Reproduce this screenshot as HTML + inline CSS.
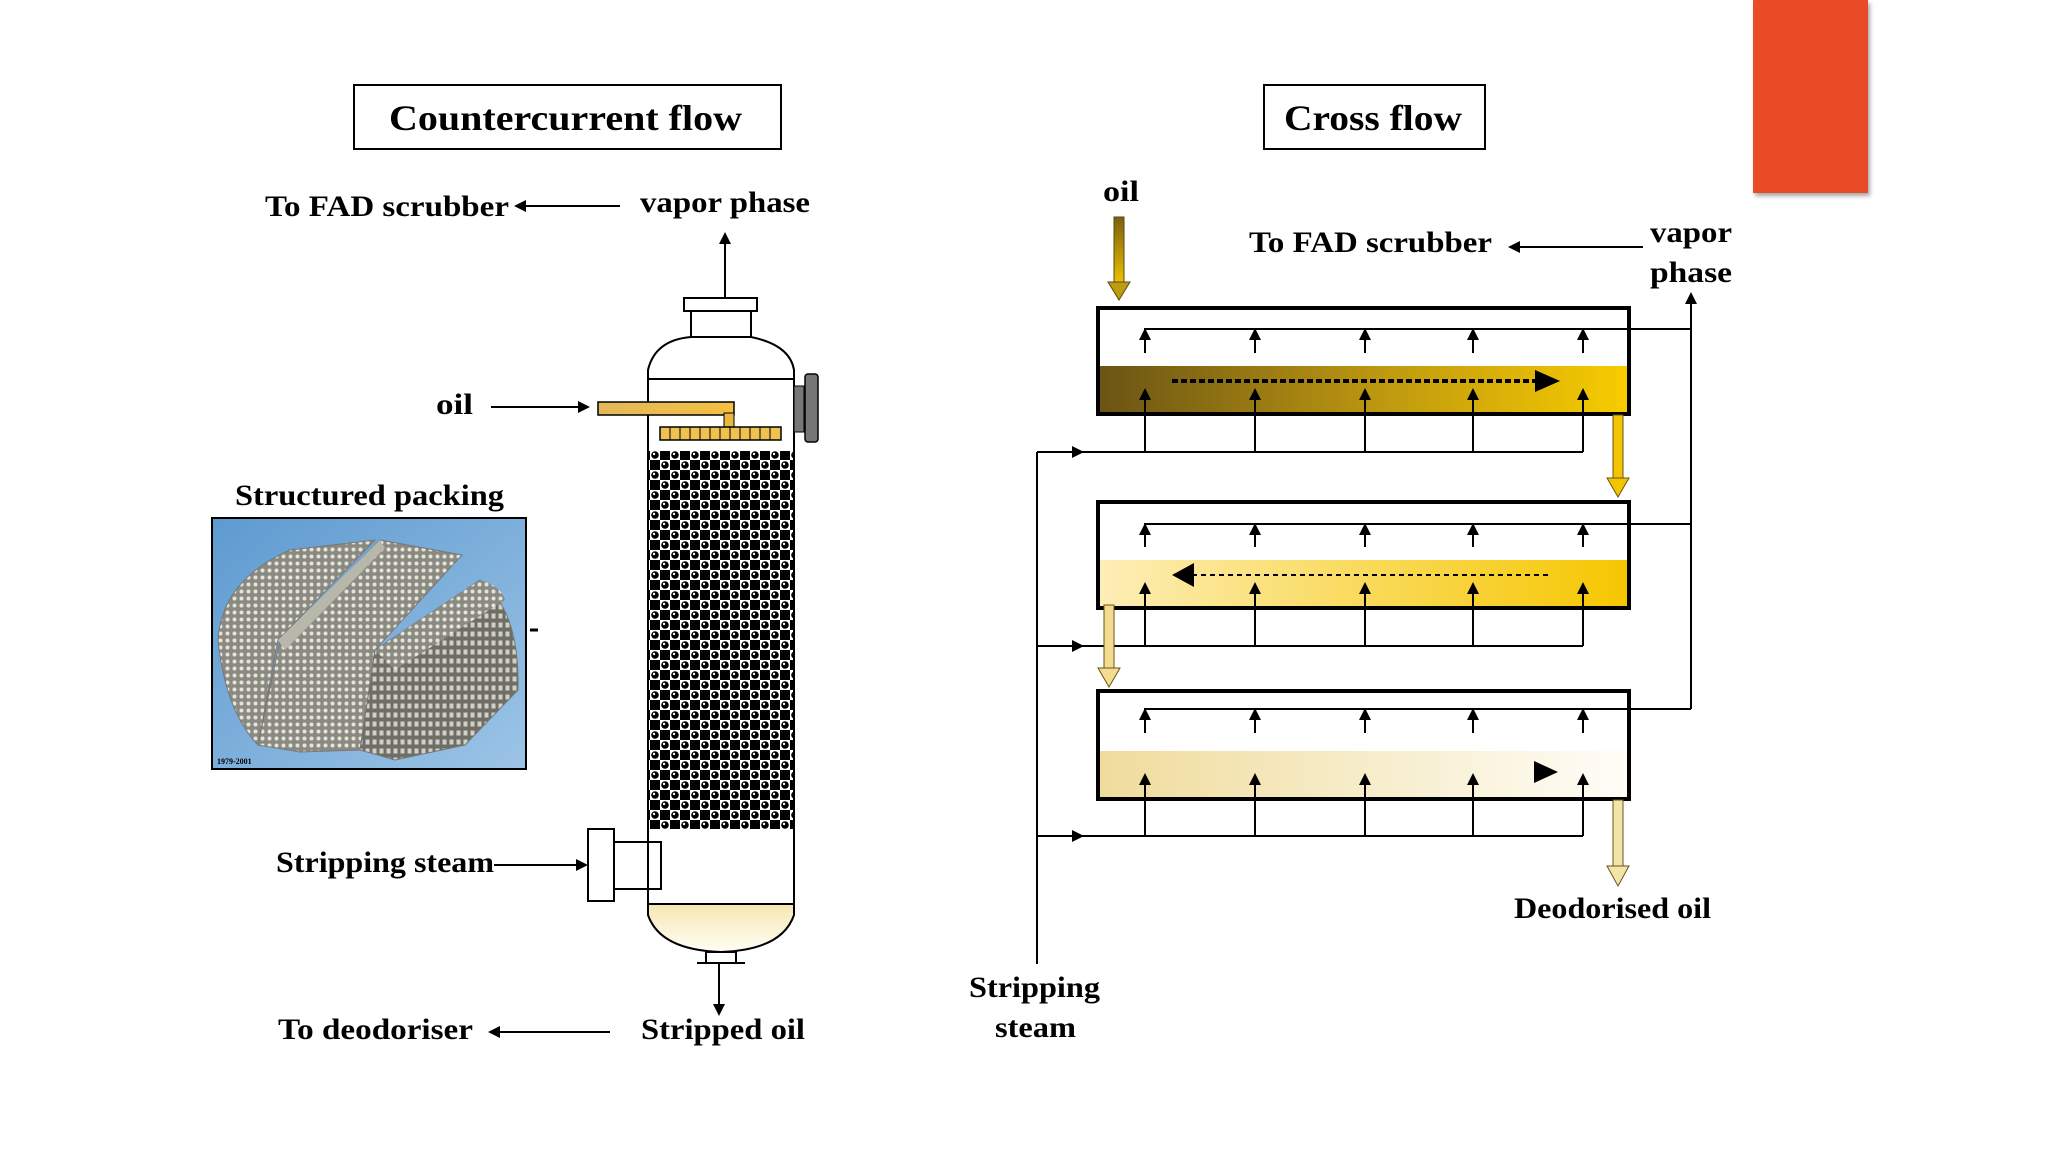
<!DOCTYPE html>
<html><head><meta charset="utf-8"><style>
html,body{margin:0;padding:0;background:#fff;}
svg{display:block;}
text{font-family:"Liberation Serif",serif;font-weight:bold;fill:#000;}
</style></head><body>
<svg width="2048" height="1152" viewBox="0 0 2048 1152" xmlns="http://www.w3.org/2000/svg">
<defs>
<marker id="ah" markerWidth="12" markerHeight="12" refX="10" refY="6" orient="auto" markerUnits="userSpaceOnUse"><path d="M0,0 L12,6 L0,12 Z" fill="#000"/></marker>
<pattern id="pk" width="20" height="20" patternUnits="userSpaceOnUse">
<rect width="20" height="20" fill="#000"/><rect x="0" y="0" width="10" height="10" fill="#fff"/><rect x="10" y="10" width="10" height="10" fill="#fff"/>
<circle cx="5" cy="5" r="3.8" fill="#000"/><circle cx="15" cy="15" r="3.8" fill="#000"/><circle cx="4" cy="4" r="1.2" fill="#fff"/><circle cx="14" cy="14" r="1.2" fill="#fff"/>
</pattern>
<pattern id="mesh" width="7" height="7" patternUnits="userSpaceOnUse"><rect width="7" height="7" fill="#8a8a80"/><circle cx="3.5" cy="3.5" r="2" fill="#e4e4dc"/></pattern>
<pattern id="mesh2" width="7" height="9" patternUnits="userSpaceOnUse"><rect width="7" height="9" fill="#6e6e66"/><rect x="1.5" y="1.5" width="4" height="5" fill="#d0d0c6"/></pattern>
<linearGradient id="g1" x1="0" x2="1"><stop offset="0" stop-color="#6a5314"/><stop offset="0.55" stop-color="#c09a10"/><stop offset="1" stop-color="#f8cc00"/></linearGradient>
<linearGradient id="g2" x1="0" x2="1"><stop offset="0" stop-color="#fdeeb8"/><stop offset="1" stop-color="#f6c600"/></linearGradient>
<linearGradient id="g3" x1="0" x2="1"><stop offset="0" stop-color="#efdc9c"/><stop offset="1" stop-color="#fffdf8"/></linearGradient>
<linearGradient id="gv" x1="0" y1="0" x2="0" y2="1"><stop offset="0" stop-color="#7a6010"/><stop offset="1" stop-color="#f2c200"/></linearGradient>
<linearGradient id="gb" x1="0" y1="0" x2="0" y2="1"><stop offset="0" stop-color="#f6e7b0"/><stop offset="1" stop-color="#fffef6"/></linearGradient>
<linearGradient id="gpipe" x1="0" x2="1"><stop offset="0" stop-color="#e3b85a"/><stop offset="1" stop-color="#f4c040"/></linearGradient>
<linearGradient id="blue" x1="0" y1="0" x2="1" y2="1"><stop offset="0" stop-color="#5e9ad0"/><stop offset="1" stop-color="#9cc4e6"/></linearGradient>
<filter id="sh"><feDropShadow dx="2" dy="3" stdDeviation="2" flood-opacity="0.35"/></filter>
</defs>

<rect x="1753" y="0" width="115" height="193" fill="#e84c25" filter="url(#sh)"/>

<rect x="354" y="85" width="427" height="64" fill="#fff" stroke="#000" stroke-width="2"/>
<text x="389" y="130" font-size="36" textLength="353" lengthAdjust="spacingAndGlyphs">Countercurrent flow</text>
<rect x="1264" y="85" width="221" height="64" fill="#fff" stroke="#000" stroke-width="2"/>
<text x="1284" y="130" font-size="36" textLength="178" lengthAdjust="spacingAndGlyphs">Cross flow</text>

<text x="265" y="216" font-size="30" textLength="244" lengthAdjust="spacingAndGlyphs">To FAD scrubber</text>
<line x1="620" y1="206" x2="516" y2="206" stroke="#000" stroke-width="2" marker-end="url(#ah)"/>
<text x="640" y="212" font-size="30" textLength="170" lengthAdjust="spacingAndGlyphs">vapor phase</text>
<line x1="725" y1="298" x2="725" y2="234" stroke="#000" stroke-width="2" marker-end="url(#ah)"/>
<text x="436" y="414" font-size="30" textLength="37" lengthAdjust="spacingAndGlyphs">oil</text>
<line x1="491" y1="407" x2="588" y2="407" stroke="#000" stroke-width="2" marker-end="url(#ah)"/>
<text x="235" y="505" font-size="30" textLength="269" lengthAdjust="spacingAndGlyphs">Structured packing</text>
<text x="276" y="872" font-size="30" textLength="218" lengthAdjust="spacingAndGlyphs">Stripping steam</text>
<line x1="494" y1="865" x2="586" y2="865" stroke="#000" stroke-width="2" marker-end="url(#ah)"/>
<text x="278" y="1039" font-size="30" textLength="195" lengthAdjust="spacingAndGlyphs">To deodoriser</text>
<line x1="610" y1="1032" x2="490" y2="1032" stroke="#000" stroke-width="2" marker-end="url(#ah)"/>
<text x="641" y="1039" font-size="30" textLength="164" lengthAdjust="spacingAndGlyphs">Stripped oil</text>

<!-- photo -->
<rect x="212" y="518" width="314" height="251" fill="url(#blue)" stroke="#000" stroke-width="2"/>
<path d="M218,640 Q222,580 290,550 L375,540 L278,640 L258,745 Q225,710 218,640 Z" fill="url(#mesh)" stroke="#777" stroke-width="1"/>
<path d="M258,745 L280,640 L380,540 L462,555 L375,650 L360,750 L300,752 Z" fill="url(#mesh)" stroke="#777" stroke-width="1"/>
<path d="M278,640 L380,540 L385,548 L285,650 Z" fill="#b8b8aa"/>
<path d="M360,750 L375,650 L480,580 Q520,610 518,690 L465,745 L395,760 Z" fill="url(#mesh2)" stroke="#777" stroke-width="1"/>
<path d="M375,650 L480,580 Q500,585 505,600 L395,670 Z" fill="url(#mesh)"/>
<text x="217" y="764" font-size="8" font-weight="normal" fill="#556">1979-2001</text>
<line x1="530" y1="630" x2="538" y2="630" stroke="#000" stroke-width="3"/>

<!-- column -->
<rect x="684" y="298" width="73" height="13" fill="#fff" stroke="#000" stroke-width="2"/>
<rect x="691" y="311" width="60" height="26" fill="#fff" stroke="#000" stroke-width="2"/>
<path d="M648,379 L648,370 Q655,340 691,337 L751,337 Q790,345 794,370 L794,379" fill="#fff" stroke="#000" stroke-width="2"/>
<rect x="648" y="379" width="146" height="525" fill="#fff" stroke="#000" stroke-width="2"/>
<rect x="649" y="451" width="144" height="378" fill="url(#pk)"/>
<path d="M648,904 L648,915 Q660,950 721,952 Q782,950 794,915 L794,904 Z" fill="url(#gb)" stroke="#000" stroke-width="2"/>
<line x1="648" y1="904" x2="794" y2="904" stroke="#000" stroke-width="2"/>
<rect x="706" y="952" width="30" height="11" fill="#fff" stroke="#000" stroke-width="2"/>
<line x1="697" y1="963" x2="745" y2="963" stroke="#000" stroke-width="2"/>
<line x1="719" y1="963" x2="719" y2="1014" stroke="#000" stroke-width="2" marker-end="url(#ah)"/>
<rect x="598" y="402" width="136" height="13" fill="url(#gpipe)" stroke="#000" stroke-width="1.5"/>
<rect x="724" y="413" width="10" height="14" fill="#e8b840" stroke="#000" stroke-width="1"/>
<rect x="660" y="427" width="121" height="13" fill="#f0c050" stroke="#000" stroke-width="1.5"/>
<g stroke="#000" stroke-width="1">
<line x1="670" y1="427" x2="670" y2="440"/><line x1="680" y1="427" x2="680" y2="440"/><line x1="690" y1="427" x2="690" y2="440"/><line x1="700" y1="427" x2="700" y2="440"/><line x1="710" y1="427" x2="710" y2="440"/><line x1="720" y1="427" x2="720" y2="440"/><line x1="730" y1="427" x2="730" y2="440"/><line x1="740" y1="427" x2="740" y2="440"/><line x1="750" y1="427" x2="750" y2="440"/><line x1="760" y1="427" x2="760" y2="440"/><line x1="770" y1="427" x2="770" y2="440"/>
</g>
<rect x="794" y="386" width="10" height="46" fill="#777" stroke="#000" stroke-width="1"/>
<rect x="805" y="374" width="13" height="68" rx="3" fill="#777" stroke="#000" stroke-width="1.5"/>
<rect x="588" y="829" width="26" height="72" fill="#fff" stroke="#000" stroke-width="2"/>
<rect x="614" y="842" width="47" height="47" fill="none" stroke="#000" stroke-width="2"/>

<!-- RIGHT -->
<text x="1103" y="201" font-size="30" textLength="36" lengthAdjust="spacingAndGlyphs">oil</text>
<rect x="1114" y="217" width="10" height="68" fill="url(#gv)" stroke="#5a4a10" stroke-width="1"/>
<path d="M1108,282 L1130,282 L1119,300 Z" fill="#c09a10" stroke="#5a4a10" stroke-width="1"/>
<text x="1249" y="252" font-size="30" textLength="243" lengthAdjust="spacingAndGlyphs">To FAD scrubber</text>
<line x1="1643" y1="247" x2="1510" y2="247" stroke="#000" stroke-width="2" marker-end="url(#ah)"/>
<text x="1650" y="242" font-size="30" textLength="82" lengthAdjust="spacingAndGlyphs">vapor</text>
<text x="1650" y="282" font-size="30" textLength="82" lengthAdjust="spacingAndGlyphs">phase</text>
<line x1="1691" y1="709" x2="1691" y2="294" stroke="#000" stroke-width="2" marker-end="url(#ah)"/>
<line x1="1037" y1="452" x2="1037" y2="964" stroke="#000" stroke-width="2"/>

<rect x="1098" y="366" width="531" height="47" fill="url(#g1)"/>
<rect x="1098" y="308" width="531" height="106" fill="none" stroke="#000" stroke-width="4"/>
<polyline points="1145,353 1145,329 1691,329" fill="none" stroke="#000" stroke-width="2"/>
<line x1="1172" y1="381" x2="1552" y2="381" stroke="#000" stroke-width="4" stroke-dasharray="6,3"/>
<path d="M1535,370 L1560,381 L1535,392 Z" fill="#000"/>
<rect x="1098" y="560" width="531" height="47" fill="url(#g2)"/>
<rect x="1098" y="502" width="531" height="106" fill="none" stroke="#000" stroke-width="4"/>
<polyline points="1145,547 1145,524 1691,524" fill="none" stroke="#000" stroke-width="2"/>
<line x1="1548" y1="575" x2="1185" y2="575" stroke="#000" stroke-width="2" stroke-dasharray="5,4"/>
<path d="M1194,563 L1172,575 L1194,587 Z" fill="#000"/>
<rect x="1098" y="751" width="531" height="47" fill="url(#g3)"/>
<rect x="1098" y="691" width="531" height="108" fill="none" stroke="#000" stroke-width="4"/>
<polyline points="1145,733 1145,709 1691,709" fill="none" stroke="#000" stroke-width="2"/>
<path d="M1534,761 L1558,772 L1534,783 Z" fill="#000"/>

<g stroke="#000" stroke-width="2" fill="none">
<polyline points="1037,452 1583,452"/><polyline points="1037,646 1583,646"/><polyline points="1037,836 1583,836"/>
<line x1="1583" y1="452" x2="1583" y2="393"/><line x1="1583" y1="646" x2="1583" y2="587"/><line x1="1583" y1="836" x2="1583" y2="778"/>
</g>
<g stroke="#000" stroke-width="2" marker-end="url(#ah)">
<line x1="1145" y1="452" x2="1145" y2="390"/><line x1="1255" y1="452" x2="1255" y2="390"/><line x1="1365" y1="452" x2="1365" y2="390"/><line x1="1473" y1="452" x2="1473" y2="390"/><line x1="1583" y1="415" x2="1583" y2="390"/>
<line x1="1255" y1="353" x2="1255" y2="330"/><line x1="1365" y1="353" x2="1365" y2="330"/><line x1="1473" y1="353" x2="1473" y2="330"/><line x1="1583" y1="353" x2="1583" y2="330"/><line x1="1145" y1="353" x2="1145" y2="330"/>
<line x1="1145" y1="646" x2="1145" y2="584"/><line x1="1255" y1="646" x2="1255" y2="584"/><line x1="1365" y1="646" x2="1365" y2="584"/><line x1="1473" y1="646" x2="1473" y2="584"/><line x1="1583" y1="610" x2="1583" y2="584"/>
<line x1="1145" y1="547" x2="1145" y2="525"/><line x1="1255" y1="547" x2="1255" y2="525"/><line x1="1365" y1="547" x2="1365" y2="525"/><line x1="1473" y1="547" x2="1473" y2="525"/><line x1="1583" y1="547" x2="1583" y2="525"/>
<line x1="1145" y1="836" x2="1145" y2="775"/><line x1="1255" y1="836" x2="1255" y2="775"/><line x1="1365" y1="836" x2="1365" y2="775"/><line x1="1473" y1="836" x2="1473" y2="775"/><line x1="1583" y1="800" x2="1583" y2="775"/>
<line x1="1145" y1="733" x2="1145" y2="710"/><line x1="1255" y1="733" x2="1255" y2="710"/><line x1="1365" y1="733" x2="1365" y2="710"/><line x1="1473" y1="733" x2="1473" y2="710"/><line x1="1583" y1="733" x2="1583" y2="710"/>
<line x1="1037" y1="452" x2="1082" y2="452"/><line x1="1037" y1="646" x2="1082" y2="646"/><line x1="1037" y1="836" x2="1082" y2="836"/>
</g>

<rect x="1613" y="415" width="10" height="66" fill="#f3c400" stroke="#6a5314" stroke-width="1"/>
<path d="M1607,478 L1629,478 L1618,497 Z" fill="#f3c400" stroke="#6a5314" stroke-width="1"/>
<rect x="1104" y="605" width="10" height="66" fill="#f3dc90" stroke="#6a5314" stroke-width="1"/>
<path d="M1098,668 L1120,668 L1109,687 Z" fill="#f3dc90" stroke="#6a5314" stroke-width="1"/>
<rect x="1613" y="800" width="10" height="68" fill="#f3e4a8" stroke="#6a5314" stroke-width="1"/>
<path d="M1607,866 L1629,866 L1618,886 Z" fill="#f3e4a8" stroke="#6a5314" stroke-width="1"/>

<text x="1514" y="918" font-size="30" textLength="197" lengthAdjust="spacingAndGlyphs">Deodorised oil</text>
<text x="969" y="997" font-size="30" textLength="131" lengthAdjust="spacingAndGlyphs">Stripping</text>
<text x="995" y="1037" font-size="30" textLength="81" lengthAdjust="spacingAndGlyphs">steam</text>
</svg>
</body></html>
